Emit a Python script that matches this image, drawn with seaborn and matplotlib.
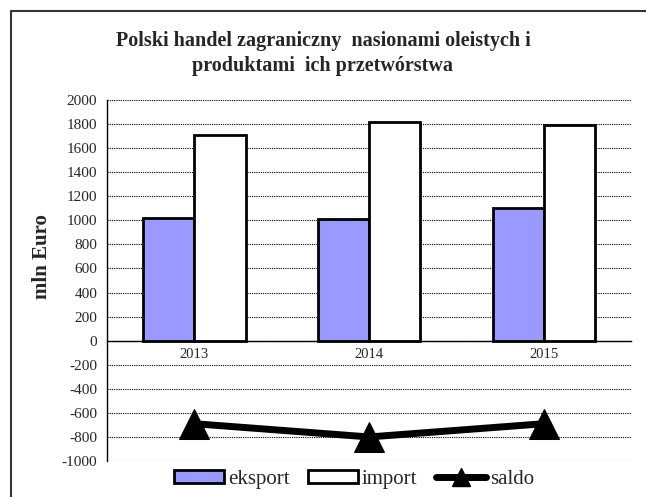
import numpy as np
import pandas as pd
import seaborn as sns
import matplotlib.pyplot as plt
from matplotlib.lines import Line2D
from matplotlib.patches import Patch

# values (mln Euro)
years = ["2013", "2014", "2015"]
eksport = [1020, 1015, 1100]
import_ = [1710, 1815, 1795]
saldo = [-690, -800, -690]

TITLE = "Polski handel zagraniczny  nasionami oleistych i\nproduktami  ich przetwórstwa"

df = pd.DataFrame(
    {
        "rok": years * 2,
        "wartosc": eksport + import_,
        "seria": ["eksport"] * 3 + ["import"] * 3,
    }
)

sns.set_style("white")
plt.rcParams["font.family"] = ["Liberation Serif", "DejaVu Serif"]
plt.rcParams["axes.unicode_minus"] = False

fig = plt.figure(figsize=(6.46, 4.97), dpi=100)
ax = fig.add_axes([0.1656, 0.0724, 0.8114, 0.7264])

sns.barplot(
    data=df,
    x="rok",
    y="wartosc",
    hue="seria",
    palette={"eksport": "#9999FF", "import": "white"},
    saturation=1,
    edgecolor="black",
    linewidth=2,
    width=0.586,
    legend=False,
    ax=ax,
)

sns.lineplot(
    x=np.arange(len(years)),
    y=saldo,
    color="black",
    linewidth=5,
    marker="^",
    markersize=21,
    markeredgecolor="black",
    ax=ax,
)

ax.set_xlim(-0.5, 2.5)
ax.set_ylim(-1000, 2000)
ax.set_yticks(np.arange(-1000, 2001, 200))
ax.yaxis.grid(True, linestyle=(0, (1, 1)), color="black", linewidth=0.8)
ax.set_axisbelow(True)

# category axis crosses at zero
ax.spines["bottom"].set_position(("data", 0))
ax.spines["top"].set_visible(False)
ax.spines["right"].set_visible(False)
for s in ["left", "bottom"]:
    ax.spines[s].set_color("black")
    ax.spines[s].set_linewidth(1)

ax.set_xticks(np.arange(len(years)))
ax.set_xticklabels(years, fontsize=10.5)
ax.set_xticks(np.arange(-0.5, 2.6, 1), minor=True)
ax.tick_params(axis="x", which="major", length=0, pad=5)
ax.tick_params(axis="x", which="minor", length=5, width=1, color="black", direction="out")
ax.tick_params(axis="y", length=5, width=1, color="black", direction="out", labelsize=11, pad=2)

ax.set_xlabel("")
ax.set_ylabel("mln Euro", fontsize=15, fontweight="bold")
ax.yaxis.set_label_coords(-0.105, 0.565)

fig.text(0.5, 0.892, TITLE, ha="center", va="center", fontsize=14.5,
         fontweight="bold", linespacing=1.3)

handles = [
    Patch(facecolor="#9999FF", edgecolor="black", linewidth=2),
    Patch(facecolor="white", edgecolor="black", linewidth=2),
    Line2D([0], [0], color="black", linewidth=5, marker="^", markersize=13),
]
fig.legend(
    handles,
    ["eksport", "import", "saldo"],
    loc="center",
    bbox_to_anchor=(0.548, 0.036),
    ncol=3,
    frameon=False,
    fontsize=15,
    handlelength=2.4,
    handleheight=0.58,
    handletextpad=0.2,
    columnspacing=0.87,
)

# outer chart border (top and left edges visible)
fig.add_artist(Line2D([0.017, 0.017], [0.0, 0.978], color="#333333", linewidth=1.5,
                      transform=fig.transFigure))
fig.add_artist(Line2D([0.017, 1.0], [0.978, 0.978], color="#333333", linewidth=1.5,
                      transform=fig.transFigure))

fig.savefig("out.png", dpi=100)
